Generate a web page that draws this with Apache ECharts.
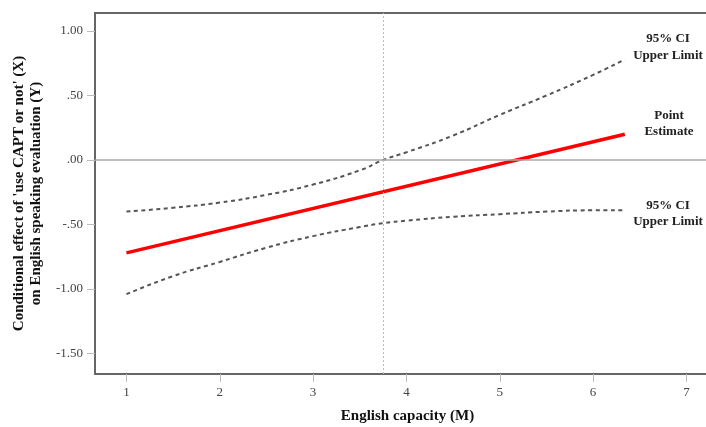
<!DOCTYPE html>
<html>
<head>
<meta charset="utf-8">
<script src="https://cdn.jsdelivr.net/npm/echarts@6/dist/echarts.min.js"></script>
<style>
    html, body { margin: 0; padding: 0; background: #fff; }
    #chart { width: 706px; height: 427px; }
</style>
</head>
<body>
<div id="chart"></div>
<script>
// moderator values (English capacity, M)
const xValues = [1, 1.5, 2, 2.5, 3, 3.5, 3.75, 4, 4.5, 5, 5.5, 6, 6.34];
const upperCI = [-0.40, -0.37, -0.33, -0.27, -0.19, -0.08, 0.00, 0.06, 0.19, 0.35, 0.50, 0.66, 0.78];
const lowerCI = [-1.04, -0.90, -0.79, -0.68, -0.59, -0.52, -0.49, -0.47, -0.44, -0.42, -0.40, -0.39, -0.39];
const pointX = [1, 6.34];
const pointEst = [-0.72, 0.20];
const xTicks = [1, 2, 3, 4, 5, 6, 7];
const yTicks = [-1.5, -1, -0.5, 0, 0.5, 1];
const jnPoint = 3.75;

const serif = '"Liberation Serif", "DejaVu Serif", serif';
const chart = echarts.init(document.getElementById('chart'));

const pairs = (xs, ys) => xs.map((x, i) => [x, ys[i]]);

const dashed = {
    type: 'line',
    symbol: 'none',
    smooth: true,
    lineStyle: { color: '#555', width: 2, type: [4, 3.5] },
    z: 3
};

const labelStyle = {
    align: 'center',
    verticalAlign: 'middle',
    font: 'bold 13px ' + serif,
    fill: '#222',
    lineHeight: 16.5
};

chart.setOption({
    animation: false,
    grid: {
        left: 95,
        top: 13,
        width: 625,
        height: 361,
        containLabel: false,
        outerBoundsMode: 'none',
        show: true,
        borderColor: '#666',
        borderWidth: 2,
        backgroundColor: '#fff'
    },
    xAxis: {
        type: 'value',
        min: 0.663,
        max: 7.36,
        name: 'English capacity (M)',
        nameLocation: 'middle',
        nameGap: 35,
        nameTextStyle: { fontFamily: serif, fontWeight: 'bold', fontSize: 15, color: '#111' },
        axisLine: { show: false, onZero: false },
        splitLine: { show: false },
        axisTick: { show: true, customValues: xTicks, length: 8, lineStyle: { color: '#bbb' } },
        axisLabel: { customValues: xTicks, margin: 12, fontFamily: serif, fontSize: 13, color: '#444' }
    },
    yAxis: {
        type: 'value',
        min: -1.659,
        max: 1.14,
        name: "Conditional effect of 'use CAPT or not' (X)\non English speaking evaluation (Y)",
        nameLocation: 'middle',
        nameRotate: 90,
        nameGap: 42,
        nameTextStyle: { fontFamily: serif, fontWeight: 'bold', fontSize: 15, color: '#111', lineHeight: 17 },
        axisLine: { show: false, onZero: false },
        splitLine: { show: false },
        axisTick: { show: true, customValues: yTicks, length: 8, lineStyle: { color: '#bbb' } },
        axisLabel: {
            customValues: yTicks,
            margin: 12,
            fontFamily: serif,
            fontSize: 13,
            color: '#444',
            formatter: v => v.toFixed(2).replace(/^(-?)0\./, '$1.')
        }
    },
    series: [
        {
            type: 'line',
            data: [],
            markLine: {
                silent: true,
                symbol: 'none',
                label: { show: false },
                data: [
                    { yAxis: 0, lineStyle: { color: '#aaa', width: 1.5, type: 'solid' } },
                    { xAxis: jnPoint, lineStyle: { color: '#bbb', width: 1, type: [2, 2] } }
                ]
            }
        },
        Object.assign({ name: 'upper', data: pairs(xValues, upperCI) }, dashed),
        Object.assign({ name: 'lower', data: pairs(xValues, lowerCI) }, dashed),
        {
            name: 'point',
            type: 'line',
            symbol: 'none',
            data: pairs(pointX, pointEst),
            lineStyle: { color: '#ff0000', width: 3.5 },
            z: 4
        }
    ],
    graphic: [
        { type: 'text', x: 668, y: 47, style: Object.assign({ text: '95% CI\nUpper Limit' }, labelStyle) },
        { type: 'text', x: 669, y: 123.5, style: Object.assign({ text: 'Point\nEstimate' }, labelStyle) },
        { type: 'text', x: 668, y: 213.5, style: Object.assign({ text: '95% CI\nUpper Limit' }, labelStyle) }
    ]
});
</script>
</body>
</html>
